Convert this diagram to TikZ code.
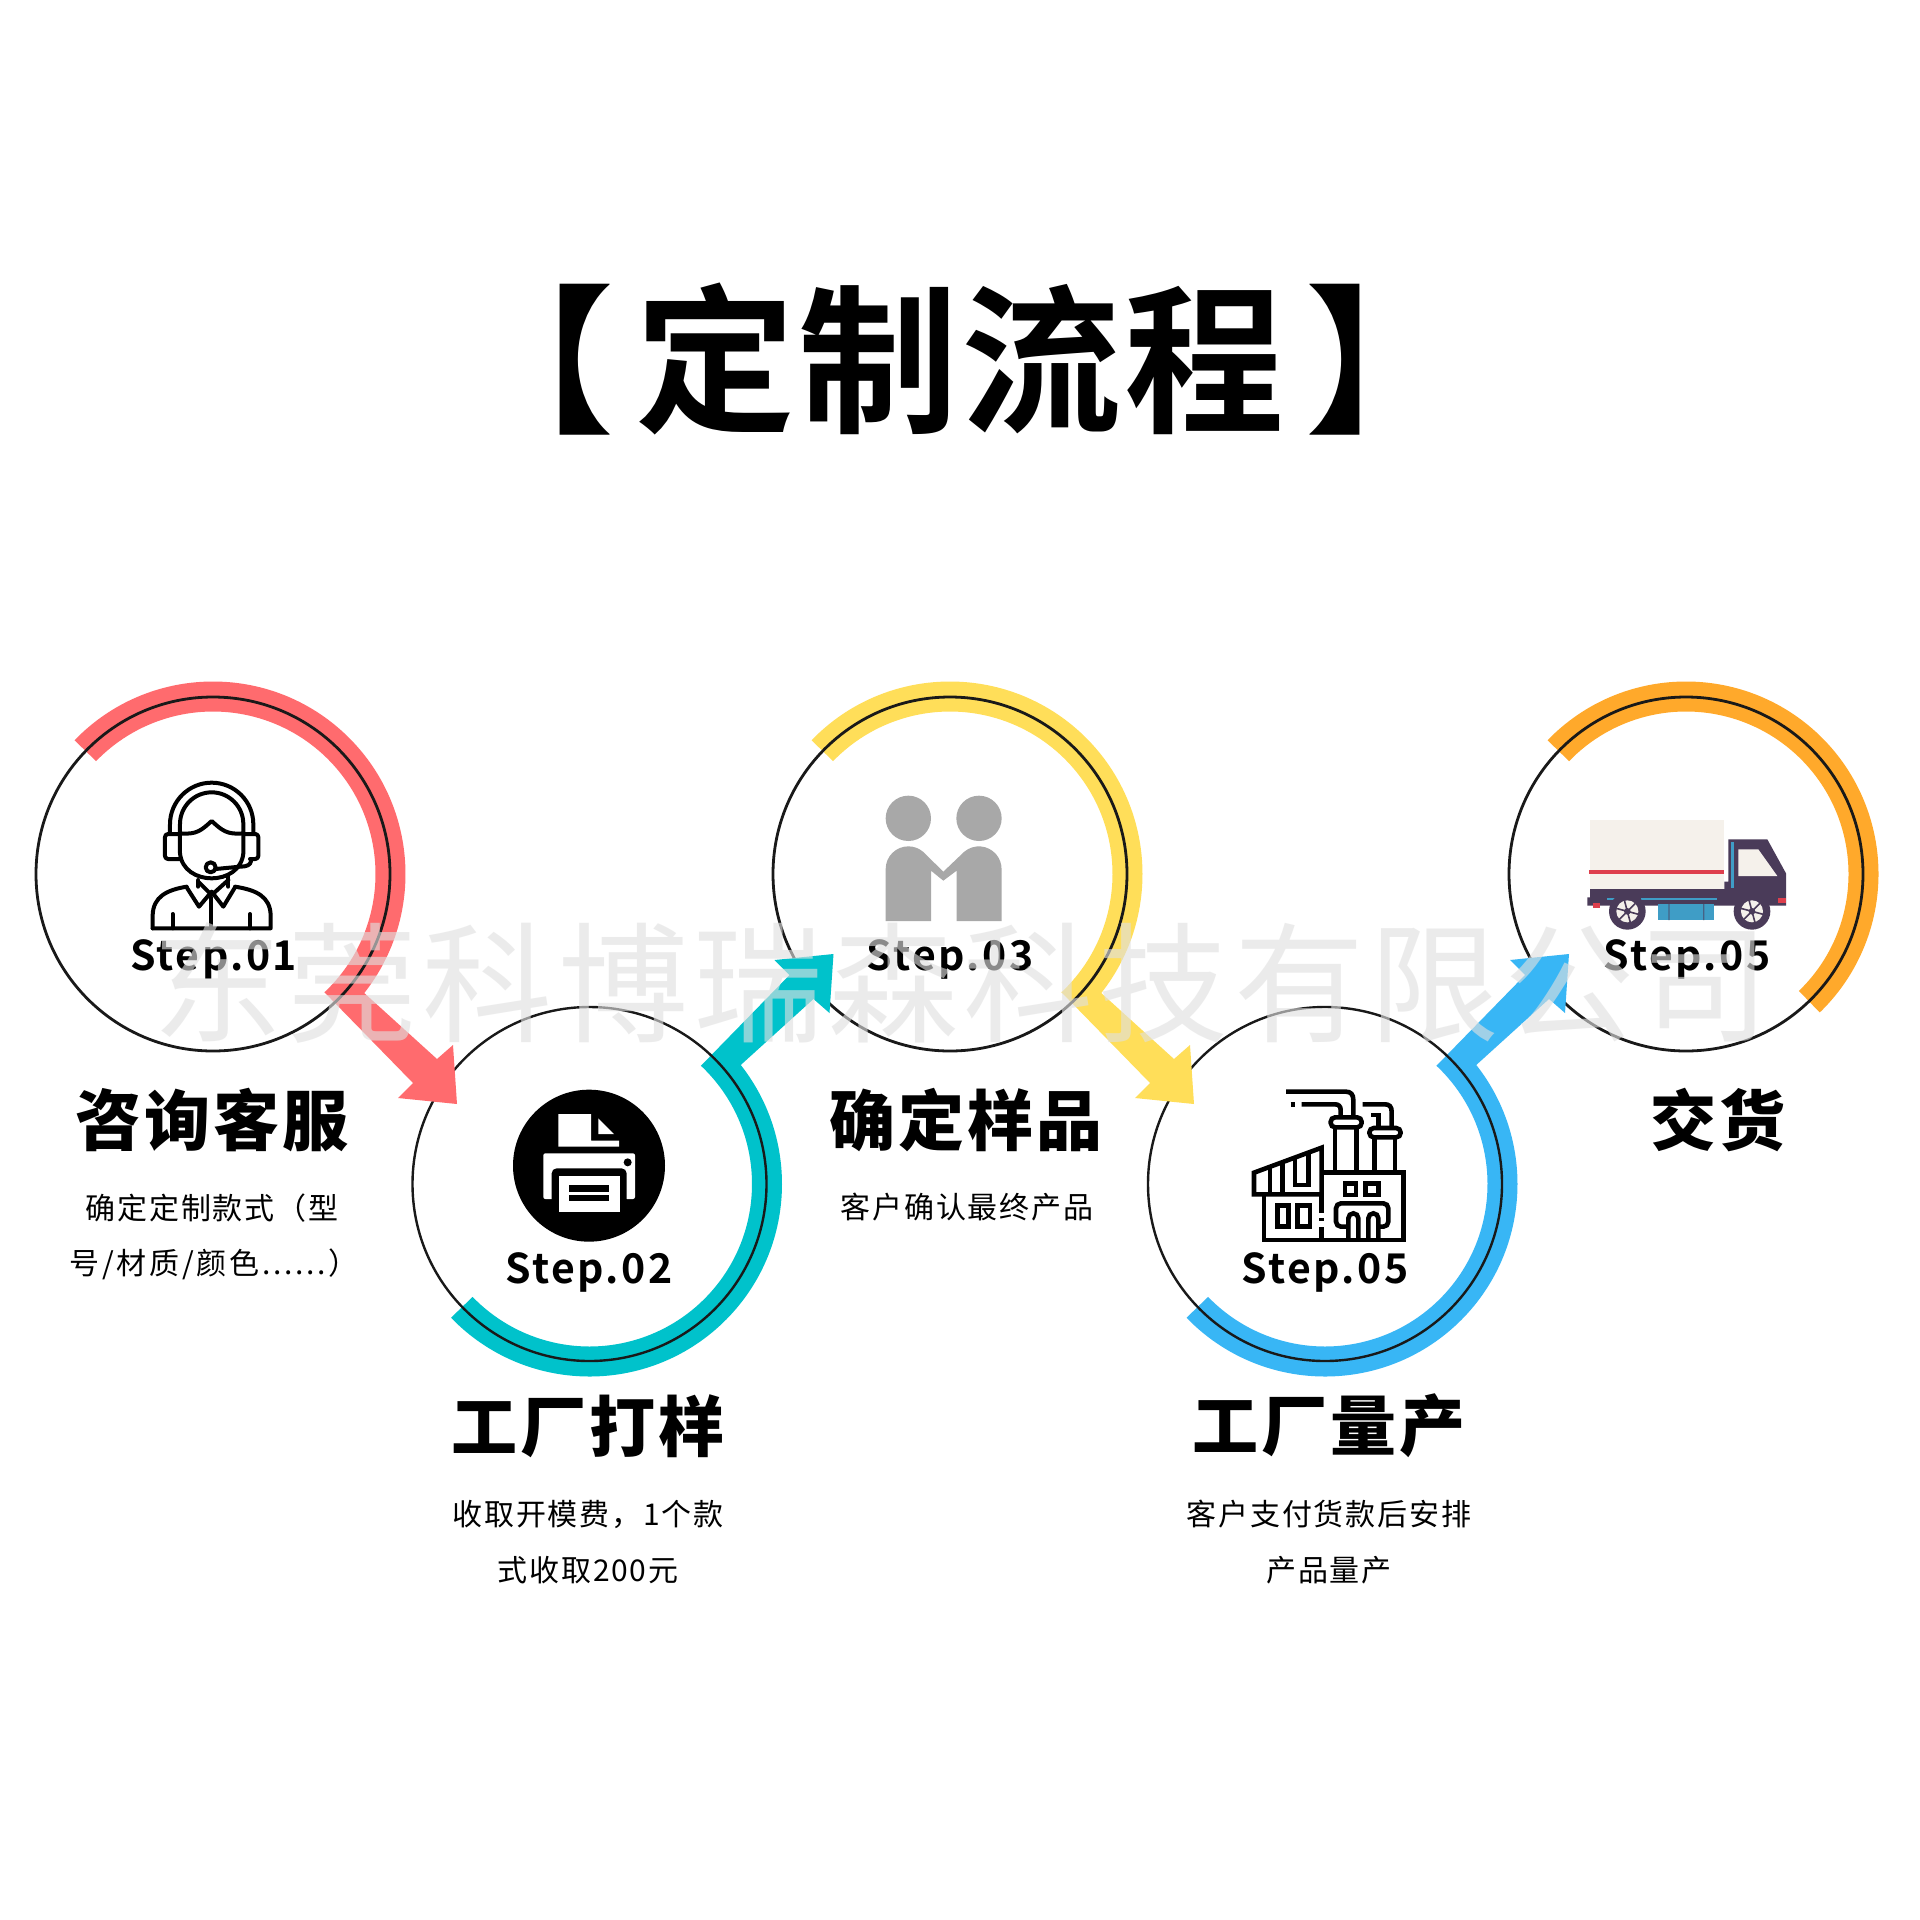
\documentclass[tikz,border=0pt]{standalone}
\usepackage{fontspec}
\setmainfont{Noto Sans CJK SC}
\newfontfamily\titlefont[LetterSpace=2]{Noto Sans CJK SC Bold}
\newfontfamily\cjkbold[LetterSpace=6]{Noto Sans CJK SC Bold}
\newfontfamily\headfont[LetterSpace=5]{Noto Sans CJK SC Black}
\newfontfamily\bodyfont[LetterSpace=6]{Noto Sans CJK SC}
\newfontfamily\widebody[LetterSpace=9]{Noto Sans CJK SC}
\newfontfamily\wmfont[LetterSpace=4]{Noto Sans CJK SC}
\definecolor{cred}{HTML}{FF6B6E}
\definecolor{cteal}{HTML}{00C2CB}
\definecolor{cyell}{HTML}{FFDE59}
\definecolor{cblue}{HTML}{38B6F5}
\definecolor{corange}{HTML}{FFA92B}
\definecolor{tbox}{HTML}{F5F1EB}
\definecolor{tdark}{HTML}{4A3B59}
\definecolor{tblue}{HTML}{3F9DC6}
\definecolor{tred}{HTML}{DE3F4D}
\definecolor{pgray}{HTML}{A8A8A8}
\tikzset{
  ring/.style={circle,draw=black!90,line width=2.8pt,minimum size=354pt,inner sep=0pt},
  steplabel/.style={anchor=base,inner sep=0pt,font=\cjkbold\fontsize{41}{41}\selectfont},
  headlabel/.style={inner sep=0pt,font=\headfont\fontsize{66}{66}\selectfont},
  bodylabel/.style={inner sep=0pt,font=\bodyfont\fontsize{30}{30}\selectfont},
  iconline/.style={line width=4pt,draw=black,line join=round,line cap=round,fill=none},
  factoryline/.style={line width=4.6pt,draw=black,line join=miter,line cap=butt,fill=none},
}
\newcommand{\bandarrow}[4]{%
  \begin{scope}[shift={(#1,#2)},yscale=#3]
    \fill[#4] (-136:192.5) arc[start angle=-136,end angle=38.2,radius=192.5pt]
      -- (224,185) -- (240,171) -- (244,230) -- (185,224) -- (200,209)
      -- (46.7:162.5) arc[start angle=46.7,end angle=-136,radius=162.5pt] -- cycle;
  \end{scope}}
\begin{document}
\begin{tikzpicture}[x=1pt,y=1pt,yscale=-1]
\useasboundingbox (0,0) rectangle (1920,1920);
\fill[white] (0,0) rectangle (1920,1920);

% orange band, circle 5
\begin{scope}[shift={(1686,874)}]
  \fill[corange] (-136:192.5) arc[start angle=-136,end angle=46,radius=192.5pt]
     -- (46:162.5) arc[start angle=46,end angle=-136,radius=162.5pt] -- cycle;
\end{scope}
\node[ring] (c5) at (1686,874) {};
\bandarrow{1325}{1184}{-1}{cblue}
\node[ring,line width=2.4pt] (c4) at (1325,1184) {};
\bandarrow{950}{874}{1}{cyell}
\node[ring] (c3) at (950,874) {};
\bandarrow{589.5}{1184}{-1}{cteal}
\node[ring,line width=2.4pt] (c2) at (589.5,1184) {};
\bandarrow{213}{874}{1}{cred}
\node[ring] (c1) at (213,874) {};

% icon 1: headset agent
\begin{scope}[shift={(20,660)},scale=0.33333]
  \draw[iconline] (450,520) -- (450,493) arc[start angle=180,end angle=360,radius=125pt] -- (700,520);
  \draw[iconline] (480,520) -- (480,492) arc[start angle=180,end angle=360,radius=95pt] -- (670,520);
  \draw[iconline,rounded corners=3pt] (480,522) -- (435,522) -- (435,597) -- (480,597);
  \draw[iconline,rounded corners=3pt] (670,522) -- (715,522) -- (715,597) -- (690,597);
  \draw[iconline] (480,520) -- (480,580) .. controls (485,630) and (530,655) .. (575,655)
     .. controls (620,655) and (665,630) .. (670,580) -- (670,520);
  \draw[iconline] (480,520) .. controls (530,525) and (545,510) .. (575,483)
     .. controls (605,510) and (620,525) .. (670,520);
  \draw[iconline] (572,622) circle[radius=15pt];
  \draw[iconline] (587,627) -- (660,620) .. controls (680,620) and (692,615) .. (693,603);
  \draw[iconline] (535,660) -- (535,680) (625,650) -- (625,680);
  \draw[iconline] (500,682) -- (537,740) -- (575,695) -- (610,740) -- (645,682);
  \draw[iconline] (535,665) -- (575,705) -- (625,660);
  \draw[iconline] (398,805) -- (398,765) .. controls (400,710) and (440,690) .. (500,680);
  \draw[iconline] (645,680) .. controls (710,690) and (750,710) .. (752,765) -- (752,805) -- (398,805);
  \draw[iconline] (572,712) -- (572,805) (458,762) -- (458,805) (690,762) -- (690,805);
\end{scope}

% icon 2: printer
\begin{scope}[shift={(400,1000)},scale=0.33333]
  \fill[black] (567,497) circle[radius=228pt];
  \fill[white] (475,342) -- (573,342) -- (573,422) -- (657,422) -- (657,440) -- (475,440) -- cycle;
  \fill[white] (595,355) -- (642,402) -- (595,402) -- cycle;
  \fill[white,rounded corners=2pt] (430,460) rectangle (705,597);
  \fill[black] (683,487) circle[radius=12pt];
  \fill[black,rounded corners=5pt] (455,505) rectangle (680,660);
  \fill[black] (455,597) rectangle (680,660);
  \fill[white] (477,527) rectangle (660,635);
  \fill[black] (508,555) rectangle (628,575);
  \fill[black] (508,585) rectangle (628,603);
\end{scope}

% icon 3: two people
\begin{scope}[shift={(760,670)},scale=0.33333]
  \fill[pgray] (445,445) circle[radius=68pt];
  \fill[pgray] (657,445) circle[radius=68pt];
  \fill[pgray] (377,753) -- (377,597) arc[start angle=180,end angle=310,radius=68pt]
     -- (550,605) -- (613,545) arc[start angle=230,end angle=360,radius=68pt]
     -- (725,753) -- (590,753) -- (590,602) -- (550,632) -- (513,602) -- (513,753) -- cycle;
\end{scope}

% icon 4: factory
\begin{scope}[shift={(1140,1000)},scale=0.33333]
  \draw[factoryline] (372,583) -- (372,720) -- (790,720) -- (790,518) -- (545,518);
  \draw[factoryline] (342,583) -- (342,518) -- (545,443) -- (545,583) -- cycle;
  \draw[factoryline] (390,503) -- (390,578) (428,490) -- (428,578) (465,478) -- (465,555) -- (505,555) -- (505,462);
  \draw[factoryline] (545,583) -- (545,640) (545,654) -- (545,664) (545,682) -- (545,720);
  \draw[factoryline] (412,616) rectangle (445,680) (472,616) rectangle (510,680);
  \draw[factoryline] (585,518) -- (585,385) (650,518) -- (650,385);
  \draw[factoryline,rounded corners=4.5pt] (572,352) rectangle (665,382);
  \draw[factoryline] (602,352) -- (602,330) .. controls (602,318) and (595,313) .. (585,313) -- (485,313);
  \draw[factoryline] (452,313) -- (466,313);
  \draw[factoryline] (640,352) -- (640,300) .. controls (640,283) and (632,275) .. (618,275) -- (438,275);
  \draw[factoryline] (703,518) -- (703,415) (765,518) -- (765,415);
  \draw[factoryline,rounded corners=4.5pt] (688,384) rectangle (782,412);
  \draw[factoryline] (755,384) -- (755,335) .. controls (755,320) and (748,313) .. (735,313) -- (668,313);
  \draw[factoryline] (715,384) -- (715,345) -- (692,345);
  \draw[factoryline] (615,550) rectangle (648,585) (677,550) rectangle (715,585);
  \draw[factoryline,rounded corners=5pt] (618,680) -- (588,680) -- (588,610) -- (745,610) -- (745,680) -- (718,680);
  \draw[factoryline] (625,718) -- (625,655) arc[start angle=180,end angle=360,radius=15pt] -- (655,718);
  \draw[factoryline] (685,718) -- (685,655) arc[start angle=180,end angle=360,radius=15pt] -- (715,718);
\end{scope}

% icon 5: truck
\begin{scope}[shift={(1480,670)},scale=0.33333]
  \fill[tbox] (330,450) rectangle (733,657);
  \fill[tred] (328,600) rectangle (733,611);
  \fill[tdark] (330,657) -- (733,657) -- (733,635) -- (745,635) -- (745,508) -- (862,508)
    -- (918,610) -- (918,707) -- (322,707) -- (322,682) -- (330,682) -- cycle;
  \fill[tbox] (775,538) -- (835,538) -- (892,618) -- (775,618) -- cycle;
  \fill[tblue] (752,515) rectangle (762,655);
  \fill[tblue] (380,684) rectangle (405,691);
  \fill[tblue] (483,684) rectangle (712,691);
  \fill[tblue] (535,702) rectangle (702,750);
  \fill[tdark!60!tblue] (565,702) rectangle (569,750) (669,702) rectangle (673,750);
  \fill[tred] (338,698) rectangle (360,713);
  \fill[tred] (893,683) rectangle (918,700);
  \foreach \wx in {442,816} {
    \fill[tdark] (\wx,724) circle[radius=55pt];
    \fill[tbox] (\wx,724) circle[radius=33pt];
    \foreach \a in {0,60,...,300} {
      \draw[tdark,line width=1.6pt] (\wx,724) -- ++(\a+15:34);
    }
    \fill[tdark] (\wx,724) circle[radius=10pt];
  }
\end{scope}

% step labels
\node[steplabel] (s1) at (213.5,970) {Step.01};
\node[steplabel] (s2) at (589,1283) {Step.02};
\node[steplabel] (s3) at (950,970) {Step.03};
\node[steplabel] (s4) at (1325,1283) {Step.05};
\node[steplabel] (s5) at (1687,970) {Step.05};

% title
\node[inner sep=0pt,font=\titlefont\fontsize{160}{160}\selectfont] (title) at (960,359) {【\kern21pt 定制流程\kern21pt 】};

% headings
\node[headlabel] (h1) at (212,1120) {咨询客服};
\node[headlabel] (h2) at (588,1426) {工厂打样};
\node[headlabel] (h3) at (966,1120) {确定样品};
\node[headlabel] (h4) at (1329,1426) {工厂量产};
\node[headlabel] (h5) at (1718,1120) {交货};

% body text
\node[bodylabel] (b1a) at (212,1208) {确定定制款式（型};
\node[bodylabel,font=\widebody\fontsize{30}{30}\selectfont] (b1b) at (214,1264) {号/材质/颜色......）};
\node[bodylabel] (b2a) at (588,1514) {收取开模费，1个款};
\node[bodylabel] (b2b) at (588,1570) {式收取200元};
\node[bodylabel] (b3a) at (967,1207) {客户确认最终产品};
\node[bodylabel] (b4a) at (1329,1514) {客户支付货款后安排};
\node[bodylabel] (b4b) at (1329,1570) {产品量产};

% watermark
\node[inner sep=0pt,text=black!12,text opacity=.62,font=\wmfont\fontsize{130}{130}\selectfont] (wm) at (961,983) {东莞科博瑞森科技有限公司};
\end{tikzpicture}
\end{document}
